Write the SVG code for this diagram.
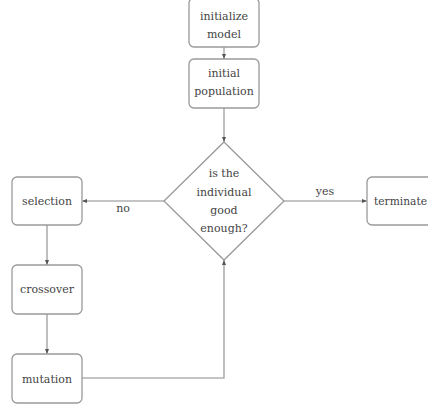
<svg xmlns="http://www.w3.org/2000/svg" width="428" height="405" viewBox="0 0 428 405">
  <defs>
    <marker id="arrow" markerWidth="6" markerHeight="6" refX="5" refY="3" orient="auto" markerUnits="userSpaceOnUse">
      <path d="M0,1 L5,3 L0,5 z" fill="#555"/>
    </marker>
    <style>
      .box { fill: #fff; stroke: #9a9a9a; stroke-width: 1.3; }
      .lbl { font-family: 'DejaVu Serif', serif; font-size: 11px; fill: #444; text-anchor: middle; }
      .edge { fill: none; stroke: #8a8a8a; stroke-width: 1.1; marker-end: url(#arrow); }
    </style>
  </defs>
  <rect width="428" height="405" fill="#fff"/>

  <g id="connectors">
    <path class="edge" d="M224,47 L224,59"/>
    <path class="edge" d="M224,108 L224,142"/>
    <path class="edge" d="M164,201 L82,201"/>
    <path class="edge" d="M284,201 L367,201"/>
    <path class="edge" d="M47,225 L47,265"/>
    <path class="edge" d="M47,314 L47,354"/>
    <path class="edge" d="M82,378 L224,378 L224,260"/>
    <text class="lbl" x="123" y="212">no</text>
    <text class="lbl" x="325" y="195">yes</text>
  </g>

  <g id="init-model">
    <rect class="box" x="189" y="-2" width="70" height="49" rx="5"/>
    <text class="lbl" x="224" y="20">initialize</text>
    <text class="lbl" x="224" y="38">model</text>
  </g>

  <g id="init-population">
    <rect class="box" x="189" y="59" width="70" height="49" rx="5"/>
    <text class="lbl" x="224" y="77">initial</text>
    <text class="lbl" x="224" y="95">population</text>
  </g>

  <g id="check-fitness">
    <polygon class="box" points="224,142 284,201 224,260 164,201"/>
    <text class="lbl" x="224" y="177">is the</text>
    <text class="lbl" x="224" y="196">individual</text>
    <text class="lbl" x="224" y="214">good</text>
    <text class="lbl" x="224" y="232">enough?</text>
  </g>

  <g id="selection">
    <rect class="box" x="12" y="177" width="70" height="48" rx="5"/>
    <text class="lbl" x="47" y="205">selection</text>
  </g>

  <g id="crossover">
    <rect class="box" x="12" y="265" width="70" height="49" rx="5"/>
    <text class="lbl" x="47" y="293">crossover</text>
  </g>

  <g id="mutation">
    <rect class="box" x="12" y="354" width="70" height="49" rx="5"/>
    <text class="lbl" x="47" y="383">mutation</text>
  </g>

  <g id="terminate">
    <rect class="box" x="367" y="177" width="75" height="48" rx="5"/>
    <text class="lbl" x="374" y="205" style="text-anchor: start" textLength="53" lengthAdjust="spacingAndGlyphs">terminate</text>
  </g>
</svg>
